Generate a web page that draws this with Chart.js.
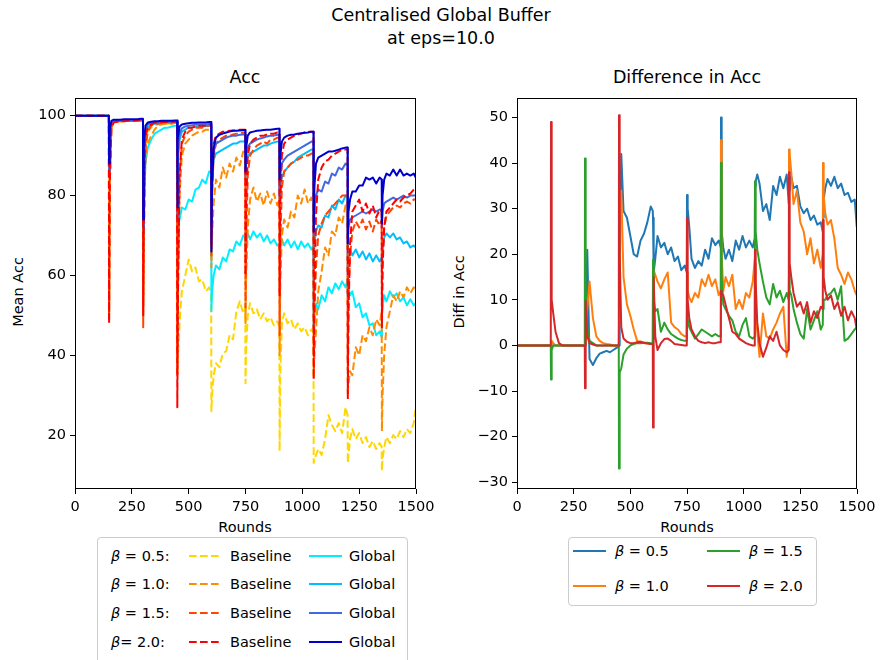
<!DOCTYPE html>
<html>
<head>
<meta charset="utf-8">
<script src="https://cdn.jsdelivr.net/npm/chart.js@4.4.0/dist/chart.umd.min.js"></script>
<style>
  body { margin: 0; background: #fff; font-family: "DejaVu Sans", sans-serif; color: #000; }
  #wrap { position: relative; width: 881px; height: 660px; overflow: hidden; background: #fff; }
  canvas { position: absolute; }
  .txt { position: absolute; white-space: nowrap; transform: translate(-50%, -50%); line-height: 1; }
  .legend { position: absolute; border: 1px solid #cccccc; border-radius: 4px; background: #fff; }
  .legend .item { position: absolute; white-space: nowrap; transform: translateY(-50%); line-height: 1; font-size: 14.5px; }
  .legend svg { position: absolute; transform: translateY(-50%); }
</style>
</head>
<body>
<div id="wrap">
  <div class="txt" style="left:441px;top:16px;font-size:17.5px">Centralised Global Buffer</div>
  <div class="txt" style="left:441px;top:39px;font-size:17.5px">at eps=10.0</div>
  <div class="txt" style="left:245px;top:78px;font-size:17.5px">Acc</div>
  <div class="txt" style="left:687px;top:78px;font-size:17.5px">Difference in Acc</div>
  <div class="txt" style="left:245px;top:527px;font-size:14.5px">Rounds</div>
  <div class="txt" style="left:687px;top:527px;font-size:14.5px">Rounds</div>
  <div class="txt" style="left:18px;top:292px;font-size:14.5px;transform:translate(-50%,-50%) rotate(-90deg)">Mean Acc</div>
  <div class="txt" style="left:459px;top:292px;font-size:14.5px;transform:translate(-50%,-50%) rotate(-90deg)">Diff in Acc</div>

  <canvas id="chart-acc" width="440" height="440" style="left:0;top:85px"></canvas>
  <canvas id="chart-diff" width="441" height="440" style="left:440px;top:85px"></canvas>

  <div id="legend-acc" class="legend" style="left:97px;top:537px;width:309px;height:135px"></div>
  <div id="legend-diff" class="legend" style="left:568px;top:537px;width:247px;height:67px"></div>
</div>
<script>
// x positions (rounds) shared by every series
const rounds = [
  0, 149,
  150, 153, 160, 170, 185, 200, 215, 230, 245, 260, 275, 290, 299,
  300, 303, 310, 320, 335, 350, 365, 380, 395, 410, 425, 440, 449,
  450, 453, 460, 470, 485, 500, 515, 530, 545, 560, 575, 590, 599,
  600, 603, 610, 620, 635, 650, 665, 680, 695, 710, 725, 740, 749,
  750, 753, 760, 770, 785, 800, 815, 830, 845, 860, 875, 890, 899,
  900, 903, 910, 920, 935, 950, 965, 980, 995, 1010, 1025, 1040, 1049,
  1050, 1053, 1060, 1070, 1085, 1100, 1115, 1130, 1145, 1160, 1175, 1190, 1199,
  1200, 1203, 1210, 1220, 1235, 1250, 1265, 1280, 1295, 1310, 1325, 1340, 1349,
  1350, 1353, 1360, 1370, 1385, 1400, 1415, 1430, 1445, 1460, 1475, 1490, 1499
];

// tick labels
const xTicks = [0, 250, 500, 750, 1000, 1250, 1500];
const accTicks = [20, 40, 60, 80, 100];
const diffTicks = [-30, -20, -10, 0, 10, 20, 30, 40, 50];

// Mean accuracy, baseline runs
const baseline05 = [
  100, 100,
  50, 85, 97, 98.5, 98.5, 98.6, 98.6, 98.7, 98.7, 98.7, 98.7, 98.8, 98.8,
  54, 75, 92, 96, 97, 97.5, 97.8, 98, 98, 98, 98.1, 98.2, 98.2,
  35, 40, 48, 56, 60, 64, 61, 62, 58.5, 59, 56, 57, 55,
  26, 30, 35, 38, 37, 40.5, 41, 45, 44, 51, 53.5, 50.5, 52,
  33, 42, 50, 53, 50.5, 51.5, 49, 50.5, 48.5, 49.5, 47.5, 48.5, 47,
  16, 35, 48, 50.5, 48, 49, 46.5, 48, 46, 47, 45, 46.5, 45.5,
  13, 14, 15, 16.5, 15, 19, 25, 22.5, 21, 23, 20.5, 27, 25,
  13, 15, 19, 21.5, 19, 20.5, 18, 19.5, 17, 18.5, 16.5, 18, 17,
  11, 14, 17, 19.5, 18, 20, 19, 21, 19.5, 21.5, 20.5, 23, 27
];
const baseline10 = [
  100, 100,
  52, 86, 97, 98.5, 98.6, 98.6, 98.6, 98.7, 98.7, 98.7, 98.7, 98.8, 98.8,
  52, 72, 90, 93, 95, 96.5, 97.5, 97.8, 98, 98, 98, 98.2, 98.2,
  40, 60, 80, 90, 93, 94, 95, 95.5, 96, 96, 96.5, 96.5, 96.5,
  62, 70, 78, 84, 82, 87, 84.5, 88, 86, 89.5, 87.5, 91, 90,
  48, 60, 72, 79, 82, 78.5, 80.5, 77.5, 81, 78, 80.5, 77.5, 79,
  40, 58, 70, 74, 72, 76, 74.5, 80, 78, 81.5, 78, 79.5, 77,
  35, 40, 46, 56, 61, 67, 65, 71, 70, 74.5, 73, 77.5, 76,
  30, 33, 36, 35, 42, 40, 45, 43.5, 47, 45, 49, 47.5, 51,
  21, 30, 40, 47, 51, 55, 53.5, 56, 54.5, 57, 55.5, 57, 56.5
];
const baseline15 = [
  100, 100,
  49, 84, 97, 98.5, 98.6, 98.6, 98.7, 98.7, 98.7, 98.8, 98.8, 98.8, 98.8,
  47, 70, 92, 96, 97.5, 98, 98, 98.2, 98.2, 98.3, 98.3, 98.4, 98.4,
  35, 62, 85, 93, 95, 96, 96.5, 97, 97, 97, 97.3, 97.5, 97.5,
  65, 80, 90, 93, 94, 94.5, 95, 95, 95.3, 95.5, 95.5, 95.8, 95.8,
  52, 70, 85, 90, 91.5, 92.5, 93, 93.5, 93, 94, 94, 94.5, 94.5,
  45, 68, 82, 86, 87, 88, 88.5, 89, 89.5, 90, 90, 90.5, 90.5,
  40, 50, 62, 70, 73, 75, 76, 77, 78, 79, 80, 80, 80,
  38, 55, 65, 71, 73.5, 72, 74, 71.5, 73.5, 71, 74, 72.5, 74,
  52, 65, 72, 75, 76, 77, 77.5, 77, 78, 78.5, 78, 79, 79
];
const baseline20 = [
  100, 100,
  48, 83, 96.5, 98.3, 98.5, 98.6, 98.6, 98.7, 98.7, 98.7, 98.8, 98.8, 98.8,
  50, 78, 95, 97, 97.8, 98.2, 98.3, 98.4, 98.4, 98.4, 98.5, 98.5, 98.5,
  27, 55, 85, 94, 96, 97, 97, 97.3, 97.5, 97.5, 97.5, 97.8, 97.8,
  68, 85, 93, 95, 95.5, 96, 96, 96.2, 96.3, 96.3, 96.5, 96.5, 96.5,
  60, 78, 90, 93, 94, 94.5, 95, 95, 95.3, 95.5, 95.5, 95.8, 95.8,
  55, 78, 90, 93, 94, 94.5, 95, 95.3, 95.5, 95.8, 96, 96, 96,
  34, 55, 75, 84, 87, 88.5, 89, 90, 90.5, 91, 91.5, 91.5, 91.5,
  29, 50, 68, 76, 77.5, 79, 76, 78, 75.5, 77.5, 74.5, 76.5, 76,
  47, 62, 72, 76, 77, 78, 79, 78.5, 79.5, 80, 80.5, 81.5, 82
];

// Mean accuracy, global buffer runs
const global05 = [
  100, 100,
  87, 95, 98, 98.6, 98.7, 98.7, 98.7, 98.8, 98.8, 98.8, 98.8, 98.9, 98.9,
  66, 80, 88, 92, 94, 95.5, 96, 96.5, 97, 97, 97.3, 97.5, 97.5,
  64, 72, 74, 77, 76.5, 79, 78.5, 81.5, 82, 84, 83, 86, 85.5,
  51, 56, 60, 62.5, 61.5, 64.5, 63.5, 66.5, 66, 68.5, 67.5, 70, 69.5,
  66, 68, 70.5, 69, 71, 69.5, 70.5, 68.5, 70, 68, 69, 67.5, 68,
  65, 67, 69, 67.5, 69, 67, 68.5, 66.5, 68.5, 67, 68, 66.5, 67.5,
  46, 50, 53, 51.5, 55, 53.5, 57, 55.5, 58, 56.5, 58.5, 57, 59,
  55, 57, 55, 56, 52, 53, 49.5, 50.5, 47.5, 48, 45, 46, 44.5,
  50, 52, 55, 53.5, 56, 54.5, 55.5, 53.5, 54.5, 52.5, 54, 52.5, 53
];
const global10 = [
  100, 100,
  88, 96, 98.3, 98.7, 98.7, 98.8, 98.8, 98.8, 98.8, 98.9, 98.9, 98.9, 98.9,
  70, 88, 95, 97, 97.8, 98, 98, 98.2, 98.2, 98.3, 98.3, 98.3, 98.3,
  72, 88, 94, 96, 96.5, 97, 97, 97.2, 97.3, 97.3, 97.4, 97.5, 97.5,
  75, 85, 89, 90.5, 91, 91.5, 92, 92.5, 93, 93, 93.5, 93.5, 93.5,
  84, 88, 90, 90.5, 91, 91.5, 92, 92.5, 92.5, 93, 93.3, 93.5, 93.5,
  78, 82, 84.5, 86, 87, 88, 88.5, 89.5, 90, 90.5, 91, 91.5, 91.5,
  62, 68, 71, 72.5, 72, 75, 74.5, 77.5, 76.5, 79, 78, 80, 79.5,
  60, 64, 66.5, 65, 66.5, 64.5, 66, 64, 65.5, 63.5, 65, 63.5, 64.5,
  62, 66, 69.5, 70.5, 69.5, 70.5, 69, 69.5, 68, 68.5, 67, 67.5, 67
];
const global15 = [
  100, 100,
  86, 95, 98.3, 98.7, 98.8, 98.8, 98.8, 98.9, 98.9, 98.9, 98.9, 99, 99,
  72, 90, 96, 97.8, 98.2, 98.3, 98.4, 98.4, 98.5, 98.5, 98.5, 98.5, 98.5,
  74, 90, 95.5, 96.8, 97.3, 97.5, 97.6, 97.7, 97.8, 97.8, 97.8, 97.9, 97.9,
  73, 86, 91, 93, 93.5, 94, 94.5, 94.8, 95, 95, 95.2, 95.3, 95.3,
  85, 90, 92, 93, 93.5, 94, 94.3, 94.5, 94.8, 95, 95, 95.2, 95.2,
  80, 85, 88, 89, 90, 90.5, 91, 91.5, 92, 92.5, 93, 93.5, 93.5,
  70, 76, 80, 81.5, 81, 83.5, 83, 85.5, 85, 87, 86.5, 88, 87.5,
  68, 72, 74, 74.5, 75, 75.5, 76, 75.5, 76, 76.5, 76, 76.5, 76.5,
  72, 76, 78, 78.5, 79, 79.5, 79, 79.5, 80, 79.5, 80, 80, 80
];
const global20 = [
  100, 100,
  88, 96.5, 98.7, 99, 99, 99, 99.1, 99.1, 99.1, 99.1, 99.1, 99.2, 99.2,
  74, 93, 97.5, 98.3, 98.5, 98.6, 98.6, 98.7, 98.7, 98.7, 98.7, 98.8, 98.8,
  77, 94, 97.3, 97.8, 98, 98.1, 98.2, 98.2, 98.3, 98.3, 98.3, 98.4, 98.4,
  66, 82, 92, 94.5, 95.2, 95.5, 95.8, 96, 96.2, 96.2, 96.3, 96.4, 96.4,
  86, 92, 95, 95.8, 96, 96.2, 96.3, 96.4, 96.5, 96.5, 96.6, 96.7, 96.7,
  84, 90, 93.5, 94.5, 95, 95.2, 95.3, 95.5, 95.6, 95.7, 95.8, 96, 96,
  71, 82, 88, 89.5, 90, 90.5, 91, 91, 91.2, 91.5, 91.8, 92, 92,
  68, 76, 79, 81, 81, 82.5, 82.5, 84.5, 84, 84.5, 83, 84.5, 84,
  73, 80, 84, 85.5, 85, 86.5, 85, 86.5, 85, 85.5, 85, 85.5, 84.5
];

// Difference in accuracy (global - baseline)
const diff05 = [
  0, 0,
  0, 0, 0, 0, 0, 0, 0, 0, 0, 0, 0, 0, 0,
  0, 2, 21, -3, -4.3, -2.8, -1.8, -1.5, -1.2, -1.5, -1, -0.5, -0.3,
  0, 15, 42, 29.5, 28, 24, 20, 19.5, 23, 24.5, 27, 30.5, 29.5,
  28, 16, 19, 24, 21.5, 22.5, 20, 21.5, 18.5, 19.5, 16.5, 17.5, 16,
  33, 30, 26, 19, 17, 18.5, 17.5, 21, 19, 23.5, 22, 23, 21.5,
  50, 25, 21.5, 19, 21, 18.5, 23, 21, 24, 21.5, 23, 21.5, 23.5,
  35, 36, 37.5, 35.5, 29.5, 31, 27.5, 35, 33, 37, 34.5, 37.5, 31,
  34, 36.5, 37, 34.5, 35, 30.5, 29, 30, 27.5, 28.5, 26.5, 27, 25,
  28, 32, 34.5, 36.5, 35, 37, 34.5, 35.5, 33, 33.5, 31.5, 32, 26
];
const diff10 = [
  0, 0,
  0, 1, 0.5, 0, 0, 0, 0, 0, 0, 0, 0, 0, 0,
  0, 3, 8, 14, 6, 2, 1, 0.5, 0.3, 0.2, 0, 0, 0,
  5, 30, 34, 15, 9, 6.5, 3.5, 1, 0.8, 0.5, 0.5, 0.3, 0.3,
  12, 16.5, 15.5, 14, 12.5, 14.5, 16, 5, 4, 3.5, 2.5, 2, 2,
  16, 12, 10.5, 9.5, 11.5, 10.5, 14.5, 13, 15.5, 13, 14.5, 11, 12,
  45, 20, 12, 15, 13, 15.5, 8, 10, 8, 11.5, 10.5, 14, 19,
  18, 6, 3, -2.5, 7, 2, 1.5, 3.5, 5, 7, 8.5, -2.5, 1,
  43, 42, 38, 31, 34, 27, 25, 20, 23.5, 18, 21, 17, 20,
  40, 33, 29, 26.5, 27.5, 23.5, 17, 15.5, 13.5, 16, 14.5, 12, 11
];
const diff15 = [
  0, 0,
  -7.5, -1, 0, 0, 0, 0, 0, 0, 0, 0, 0, 0, 0,
  41, 12, 4, 1, 0.5, 0, 0, 0, 0, 0, 0, 0, 0,
  -27, -6, -5, -2, -0.7, 0, 0.3, 0.5, 0.5, 0.6, 0.6, 0.5, 0.5,
  18.8, 10, 7.5, 8, 3, 5, 3.5, 2.5, 2, 1.5, 1.2, 1, 1,
  8, 6, 4, 3, 1.5, 2.5, 3.5, 3, 2.5, 2, 2.5, 2, 2,
  40, 15, 9, 8, 6.5, 5.5, 3, 2, 4.5, 6, 2, 1.5, 2,
  36, 25, 21, 18, 14, 10.5, 9, 13.5, 10.5, 12, 9.5, 11.5, 10,
  16, 12, 11, 8, 5, 2.5, 1.5, 8, 3.5, 5.5, 7.5, 3.5, 4.5,
  8, 10, 10, 11, 11.5, 12.5, 10, 13, 1, 1.5, 2.5, 3.5, 4
];
const diff20 = [
  0, 0,
  49, 10, 7, 3, 0.5, 0, 0, 0, 0, 0, 0, 0, 0,
  -9.4, 9.8, 2, 0.5, 0.2, 0, 0, 0, 0, 0, 0, 0, 0,
  50.5, 20, 4, 1.5, 0.8, 0.5, 0.5, 0.7, 0.8, 0.6, 0.4, 0.3, 0.3,
  -18, 15, 2, -1, 0.5, 1.4, 1.5, 1, 0.3, 0.2, 0.1, 0, 0,
  28, 10, 6, 3.5, 2, 1, 0.7, 0.5, 0.7, 0.5, 0.5, 0.7, 0.7,
  12, 11.5, 11, 9, 6, 3, 2.5, 1.5, 1, 0.5, 0.2, 0, 0,
  21, 14, 5, 0.5, -2.5, -0.5, 2, 1, 3, 0, -1, -1.5, -1,
  38, 18, 15, 11.5, 8.5, 9.5, 7, 9.5, 5, 7.5, 6, 8.5, 8,
  27.5, 15, 12, 10, 11, 8, 9.5, 6.5, 8.5, 5.5, 7.5, 6, 3.5
];

// plotting order follows the original (later = on top)
const accLines = [
  { beta: '0.5', kind: 'Baseline', values: baseline05, color: '#FFD700', dashed: true },
  { beta: '0.5', kind: 'Global', values: global05, color: '#00EEFF', dashed: false },
  { beta: '1.0', kind: 'Baseline', values: baseline10, color: '#FF8C00', dashed: true },
  { beta: '1.0', kind: 'Global', values: global10, color: '#00BFFF', dashed: false },
  { beta: '1.5', kind: 'Baseline', values: baseline15, color: '#FF4500', dashed: true },
  { beta: '1.5', kind: 'Global', values: global15, color: '#4169E1', dashed: false },
  { beta: '2.0', kind: 'Baseline', values: baseline20, color: '#FF0000', dashed: true },
  { beta: '2.0', kind: 'Global', values: global20, color: '#0000CD', dashed: false }
];
const diffLines = [
  { beta: '0.5', values: diff05, color: '#1f77b4' },
  { beta: '1.0', values: diff10, color: '#ff7f0e' },
  { beta: '1.5', values: diff15, color: '#2ca02c' },
  { beta: '2.0', values: diff20, color: '#d62728' }
];

[...accLines, ...diffLines].forEach(s => {
  if (s.values.length !== rounds.length) throw new Error('length mismatch ' + s.beta + ' ' + s.values.length);
});

const DASH = [7.7, 3.3];
const FONT = { family: 'DejaVu Sans', size: 14.5 };

function toPoints(values) {
  return rounds.map((r, i) => ({ x: r, y: values[i] }));
}

function tickText(v) {
  return v < 0 ? '\u2212' + Math.abs(v) : String(v);
}

// matplotlib-style box round the plot area
const framePlugin = {
  id: 'frame',
  afterDatasetsDraw(chart) {
    const { ctx, chartArea: a } = chart;
    ctx.save();
    ctx.strokeStyle = '#000';
    ctx.lineWidth = 1;
    ctx.strokeRect(Math.round(a.left) + 0.5, Math.round(a.top) + 0.5,
      Math.round(a.right - a.left) - 1, Math.round(a.bottom - a.top) - 1);
    ctx.restore();
  }
};

function makeOptions(yMin, yMax, yTicks, yWidth, padRight) {
  return {
    responsive: false,
    animation: false,
    events: [],
    layout: { padding: { top: 10, right: padRight, left: 0, bottom: 0 } },
    plugins: { legend: { display: false }, tooltip: { enabled: false } },
    scales: {
      x: {
        type: 'linear', min: 0, max: 1500,
        afterBuildTicks: s => { s.ticks = xTicks.map(v => ({ value: v })); },
        afterFit: s => { s.height = 36; },
        grid: { drawOnChartArea: false, drawTicks: true, tickLength: 5, color: '#000' },
        border: { display: false },
        ticks: { color: '#000', font: FONT, padding: 5, maxRotation: 0, autoSkip: false, callback: tickText }
      },
      y: {
        type: 'linear', min: yMin, max: yMax,
        afterBuildTicks: s => { s.ticks = yTicks.map(v => ({ value: v })); },
        afterFit: s => { s.width = yWidth; },
        grid: { drawOnChartArea: false, drawTicks: true, tickLength: 5, color: '#000' },
        border: { display: false },
        ticks: { color: '#000', font: FONT, padding: 4, autoSkip: false, callback: tickText }
      }
    }
  };
}

new Chart(document.getElementById('chart-acc').getContext('2d'), {
  type: 'line',
  data: {
    datasets: accLines.map((s, i) => ({
      data: toPoints(s.values),
      borderColor: s.color,
      borderWidth: 2,
      borderDash: s.dashed ? DASH : [],
      borderJoinStyle: 'round',
      pointRadius: 0,
      tension: 0,
      fill: false,
      order: accLines.length - i
    }))
  },
  options: makeOptions(6.5, 104.5, accTicks, 75, 24),
  plugins: [framePlugin]
});

new Chart(document.getElementById('chart-diff').getContext('2d'), {
  type: 'line',
  data: {
    datasets: diffLines.map((s, i) => ({
      data: toPoints(s.values),
      borderColor: s.color,
      borderWidth: 2,
      borderJoinStyle: 'round',
      pointRadius: 0,
      tension: 0,
      fill: false,
      order: diffLines.length - i
    }))
  },
  options: makeOptions(-31.5, 54.35, diffTicks, 77, 24),
  plugins: [framePlugin]
});

// legends (HTML, laid out like the matplotlib ones)
function sample(color, dashed, left, top, len) {
  const dash = dashed ? ' stroke-dasharray="' + DASH.join(' ') + '"' : '';
  return '<svg width="' + len + '" height="6" style="left:' + left + 'px;top:' + top + 'px">' +
    '<line x1="0" y1="3" x2="' + len + '" y2="3" stroke="' + color + '" stroke-width="2"' + dash + '/></svg>';
}

const accRowsY = [18, 46, 75, 104];
let accHtml = '';
['0.5', '1.0', '1.5', '2.0'].forEach((b, r) => {
  const y = accRowsY[r];
  const base = accLines.find(s => s.beta === b && s.kind === 'Baseline');
  const glob = accLines.find(s => s.beta === b && s.kind === 'Global');
  const lab = b === '2.0' ? '<i>\u03b2</i>= ' + b + ':' : '<i>\u03b2</i> = ' + b + ':';
  accHtml += '<div class="item" style="left:13px;top:' + y + 'px">' + lab + '</div>';
  accHtml += sample(base.color, true, 91, y, 33);
  accHtml += '<div class="item" style="left:132px;top:' + y + 'px">Baseline</div>';
  accHtml += sample(glob.color, false, 211, y, 33);
  accHtml += '<div class="item" style="left:251px;top:' + y + 'px">Global</div>';
});
document.getElementById('legend-acc').innerHTML = accHtml;

const diffPos = [
  { x: 4, y: 13 }, { x: 4, y: 48 }, { x: 138, y: 13 }, { x: 138, y: 48 }
];
let diffHtml = '';
diffLines.forEach((s, i) => {
  const p = diffPos[i];
  diffHtml += sample(s.color, false, p.x, p.y, 33);
  diffHtml += '<div class="item" style="left:' + (p.x + 42) + 'px;top:' + p.y + 'px"><i>\u03b2</i> = ' + s.beta + '</div>';
});
document.getElementById('legend-diff').innerHTML = diffHtml;
</script>
</body>
</html>
